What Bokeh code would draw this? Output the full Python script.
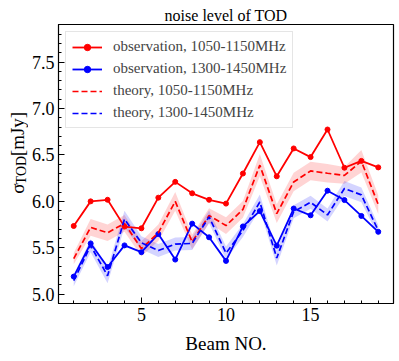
from bokeh.plotting import figure
from bokeh.models import Range1d, FixedTicker, Legend, LegendItem, NumeralTickFormatter
from bokeh.layouts import row
from bokeh.core.properties import value
from bokeh.embed import file_html
from bokeh.resources import INLINE
import math

beams = list(range(1, 20))

obs_1050 = [5.735, 6.00, 6.017, 5.728, 5.71, 6.04, 6.21, 6.087, 6.017, 5.976,
            6.30, 6.638, 6.27, 6.57, 6.477, 6.774, 6.362, 6.436, 6.366]
obs_1300 = [5.19, 5.547, 5.293, 5.526, 5.453, 5.648, 5.373, 5.76, 5.613, 5.359,
            5.73, 5.895, 5.523, 5.923, 5.85, 6.115, 6.014, 5.843, 5.672]
th_1050 = [5.383, 5.72, 5.662, 5.763, 5.49, 5.662, 6.00, 5.564, 5.847, 5.739,
           5.913, 6.39, 5.868, 6.209, 6.328, 6.303, 6.279, 6.432, 5.965]
th_1050_err = [0.06, 0.09, 0.09, 0.09, 0.08, 0.09, 0.10, 0.08, 0.08, 0.09,
               0.09, 0.12, 0.10, 0.10, 0.10, 0.10, 0.09, 0.12, 0.10]
th_1300 = [5.146, 5.523, 5.199, 5.808, 5.554, 5.47, 5.54, 5.547, 5.833, 5.443,
           5.686, 5.993, 5.39, 5.889, 5.99, 5.854, 6.139, 6.07, 5.686]
th_1300_err = [0.06, 0.07, 0.08, 0.09, 0.07, 0.07, 0.07, 0.07, 0.07, 0.07,
               0.07, 0.08, 0.08, 0.07, 0.07, 0.07, 0.08, 0.08, 0.06]

x_ticks = [5, 10, 15]
y_ticks = [5.0, 5.5, 6.0, 6.5, 7.0, 7.5]

FONT = "Liberation Serif"
H = 356
LW = 28

p = figure(width=396 - LW, height=H, output_backend="svg", toolbar_location=None,
           title="noise level of TOD",
           x_range=Range1d(0.1, 19.9), y_range=Range1d(4.90, 7.905),
           min_border_left=56 - LW, min_border_right=3, min_border_top=24, min_border_bottom=44)
p.title.align = "center"
p.title.text_font = FONT
p.title.text_font_size = "16px"
p.title.text_font_style = "normal"
p.title.text_color = "black"
p.title.standoff = 2
p.grid.visible = False
p.outline_line_color = "black"
p.outline_line_width = 1.2
p.background_fill_color = "white"
p.border_fill_color = "white"

# bands
lo1 = [t - e for t, e in zip(th_1050, th_1050_err)]
hi1 = [t + e for t, e in zip(th_1050, th_1050_err)]
lo2 = [t - e for t, e in zip(th_1300, th_1300_err)]
hi2 = [t + e for t, e in zip(th_1300, th_1300_err)]
p.varea(x=beams, y1=lo1, y2=hi1, fill_color="red", fill_alpha=0.17)
p.varea(x=beams, y1=lo2, y2=hi2, fill_color="blue", fill_alpha=0.17)

lr1 = p.line(beams, obs_1050, line_color="red", line_width=1.8)
sr1 = p.scatter(beams, obs_1050, marker="circle", size=5, fill_color="red", line_color="red")
lr2 = p.line(beams, obs_1300, line_color="blue", line_width=1.8)
sr2 = p.scatter(beams, obs_1300, marker="circle", size=5, fill_color="blue", line_color="blue")
tr1 = p.line(beams, th_1050, line_color="red", line_width=1.7, line_dash="6 3")
tr2 = p.line(beams, th_1300, line_color="blue", line_width=1.7, line_dash="6 3")

legend = Legend(items=[
    LegendItem(label="observation, 1050-1150MHz", renderers=[lr1, sr1]),
    LegendItem(label="observation, 1300-1450MHz", renderers=[lr2, sr2]),
    LegendItem(label="theory, 1050-1150MHz", renderers=[tr1]),
    LegendItem(label="theory, 1300-1450MHz", renderers=[tr2]),
], location="top_left")
legend.label_text_font = FONT
legend.label_text_font_size = "15px"
legend.glyph_width = 30
legend.glyph_height = 16
legend.label_height = 16
legend.spacing = 5
legend.padding = 6
legend.margin = 7
legend.label_standoff = 11
legend.border_line_color = "#cccccc"
legend.border_line_width = 1
legend.background_fill_alpha = 0.85
p.add_layout(legend)

# axes
p.xaxis.ticker = FixedTicker(ticks=x_ticks, minor_ticks=beams)
p.yaxis.ticker = FixedTicker(ticks=y_ticks,
                             minor_ticks=[round(4.9 + 0.1 * i, 1) for i in range(31)])
p.yaxis.formatter = NumeralTickFormatter(format="0.0")
for ax in (p.xaxis, p.yaxis):
    ax.major_tick_in = 6
    ax.major_tick_out = 0
    ax.minor_tick_in = 3
    ax.minor_tick_out = 0
    ax.major_tick_line_color = "black"
    ax.minor_tick_line_color = "black"
    ax.axis_line_color = "black"
    ax.major_label_text_font = FONT
    ax.major_label_text_font_size = "18px"
    ax.major_label_text_color = "black"
    ax.major_label_standoff = 4
p.xaxis.axis_label = "Beam NO."
p.xaxis.axis_label_text_font = FONT
p.xaxis.axis_label_text_font_size = "19px"
p.xaxis.axis_label_text_font_style = "normal"
p.xaxis.axis_label_text_color = "black"
p.xaxis.axis_label_standoff = 9

# narrow side figure carrying the y-axis label (sigma with subscript TOD)
q = figure(width=LW, height=H, output_backend="svg", toolbar_location=None,
           x_range=Range1d(0, LW), y_range=Range1d(0, H),
           x_axis_location=None, y_axis_location=None,
           min_border_left=0, min_border_right=0, min_border_top=0, min_border_bottom=0)
q.grid.visible = False
q.outline_line_color = None
q.background_fill_color = "white"
q.border_fill_color = "white"
q.text(x=[17], y=[H - 216], text=["σ"], angle=math.pi / 2,
       text_font=value(FONT), text_font_size="19px", text_color="black",
       text_align="left", text_baseline="alphabetic")
q.text(x=[20.5], y=[H - 204], text=["TOD"], angle=math.pi / 2,
       text_font=value(FONT), text_font_size="14px", text_color="black",
       text_align="left", text_baseline="alphabetic")
q.text(x=[17], y=[H - 168], text=["[mJy]"], angle=math.pi / 2,
       text_font=value(FONT), text_font_size="19px", text_color="black",
       text_align="left", text_baseline="alphabetic")

layout = row(q, p, spacing=0)
open("out.html", "w").write(file_html(layout, INLINE))
